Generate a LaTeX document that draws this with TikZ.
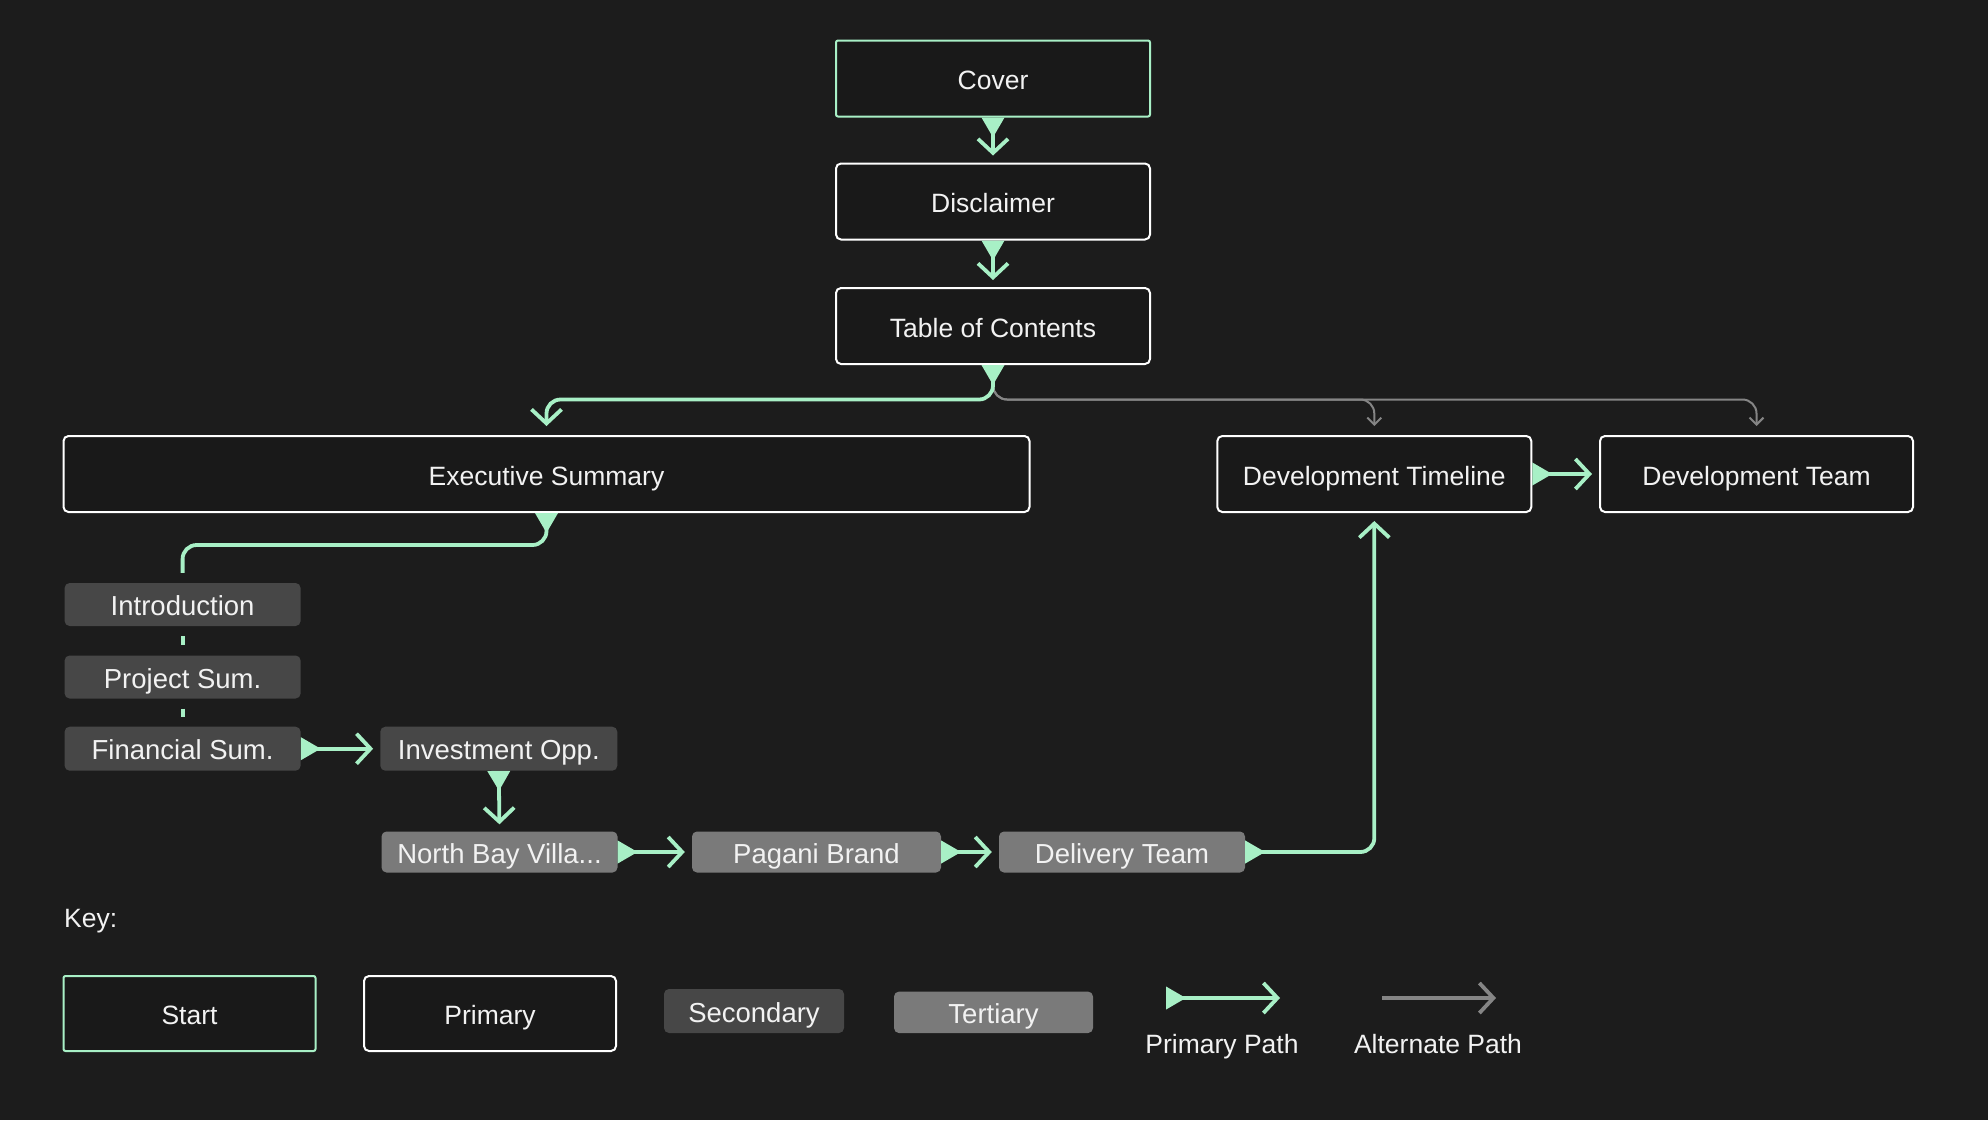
\documentclass[tikz,border=0pt]{standalone}
\usepackage{fontspec}
\setmainfont{Liberation Sans}
\usetikzlibrary{arrows.meta}
\definecolor{bg}{HTML}{1C1C1C}
\definecolor{boxfill}{HTML}{191919}
\definecolor{mint}{HTML}{A8F0C6}
\definecolor{secfill}{HTML}{474747}
\definecolor{terfill}{HTML}{7A7A7A}
\definecolor{altgray}{HTML}{858585}
\definecolor{txt}{HTML}{F2F2F2}
\tikzset{
  base/.style={inner sep=0pt, text=txt, anchor=center, font=\fontsize{26.5}{30}\selectfont, text height=22pt, text depth=0pt},
  startbox/.style={base, draw=mint, line width=2pt, fill=boxfill, rounded corners=2pt},
  primbox/.style={base, draw=white, line width=2pt, fill=boxfill, rounded corners=5pt},
  secbox/.style={base, fill=secfill, rounded corners=5pt, font=\fontsize{27.5}{30}\selectfont, text height=22.5pt},
  terbox/.style={base, fill=terfill, rounded corners=5pt, font=\fontsize{27.5}{30}\selectfont, text height=22.5pt},
  prim/.style={draw=mint, line width=3.8pt, rounded corners=14pt,
    {Triangle[reversed,length=20pt,width=22pt]}-{Straight Barb[length=14pt,width=30pt]}},
  primlink/.style={draw=mint, line width=3.8pt},
  alt/.style={draw=altgray, line width=2pt, rounded corners=14pt, -{Straight Barb[length=7pt,width=14pt]}},
  altkey/.style={draw=altgray, line width=3.8pt, -{Straight Barb[length=14pt,width=30pt]}},
  lbl/.style={text=txt, font=\fontsize{26.5}{30}\selectfont, inner sep=0pt, text height=22pt, text depth=0pt}
}
\begin{document}
\begin{tikzpicture}[x=1pt,y=-1pt]
\fill[bg] (0,0) rectangle (1988,1120);
\useasboundingbox (0,0) rectangle (1988,1120);

% nodes
\node[startbox, minimum width=314pt, minimum height=76pt] (cover) at (993,78.5) {Cover};
\node[primbox, minimum width=314pt, minimum height=76pt] (disc) at (993,201.5) {Disclaimer};
\node[primbox, minimum width=314pt, minimum height=76pt] (toc) at (993,326) {Table of Contents};
\node[primbox, minimum width=966pt, minimum height=76pt] (exec) at (546.5,474) {Executive Summary};
\node[primbox, minimum width=314pt, minimum height=76pt] (devtl) at (1374.3,474) {Development Timeline};
\node[primbox, minimum width=313pt, minimum height=76pt] (devteam) at (1756.5,474) {Development Team};

\node[secbox, minimum width=236pt, minimum height=43pt] (intro) at (182.6,604.5) {Introduction};
\node[secbox, minimum width=236pt, minimum height=43pt] (proj) at (182.6,677) {Project Sum.};
\node[secbox, minimum width=236pt, minimum height=44pt] (fin) at (182.6,748.7) {Financial Sum.};
\node[secbox, minimum width=237pt, minimum height=44pt] (inv) at (498.8,748.7) {Investment Opp.};

\node[terbox, minimum width=236pt, minimum height=41pt] (nbv) at (499.5,852) {North Bay Villa...};
\node[terbox, minimum width=249pt, minimum height=41pt] (pag) at (816.5,852) {Pagani Brand};
\node[terbox, minimum width=246pt, minimum height=41pt] (del) at (1122,852) {Delivery Team};

% helper coordinates
\coordinate (yTop) at (0,399.5);
\coordinate (yExec) at (0,545);

% alternate paths
\draw[alt, shorten >=9pt] (toc.south) -- (toc.south |- yTop) -- (devteam.north |- yTop) -- (devteam.north);
\draw[alt, shorten >=9pt] (toc.south) -- (toc.south |- yTop) -- (devtl.north |- yTop) -- (devtl.north);

% primary paths
\draw[prim, shorten >=7pt] (cover.south) -- (disc.north);
\draw[prim, shorten >=7pt] (disc.south) -- (toc.north);
\draw[prim, shorten >=9pt] (toc.south) -- (toc.south |- yTop) -- (exec.north |- yTop) -- (exec.north);
\draw[draw=mint, line width=3.8pt, rounded corners=14pt, {Triangle[reversed,length=20pt,width=22pt]}-, shorten >=10pt]
  (exec.south) -- (exec.south |- yExec) -- (intro.north |- yExec) -- (intro.north);
\draw[primlink, shorten <=10pt, shorten >=10pt] (intro.south) -- (proj.north);
\draw[primlink, shorten <=10pt, shorten >=10pt] (proj.south) -- (fin.north);
\draw[prim, shorten >=7pt] (fin.east) -- (inv.west);
\draw[prim, shorten >=7pt] (inv.south) -- (nbv.north);
\draw[prim, shorten >=7pt] (nbv.east) -- (pag.west);
\draw[prim, shorten >=7pt] (pag.east) -- (del.west);
\draw[prim, shorten >=8pt] (del.east) -- (devtl.south |- del.east) -- (devtl.south);
\draw[prim, shorten >=7pt] (devtl.east) -- (devteam.west);

% key
\node[lbl, anchor=west] (key) at (64,916.5) {Key:};
\node[startbox, minimum width=252pt, minimum height=75pt] (kstart) at (189.5,1013.5) {Start};
\node[primbox, minimum width=252pt, minimum height=75pt] (kprim) at (490,1013.5) {Primary};
\node[secbox, minimum width=180pt, minimum height=44pt] (ksec) at (754,1011) {Secondary};
\node[terbox, minimum width=199pt, minimum height=41.5pt] (kter) at (993.5,1012.3) {Tertiary};
\coordinate (pp1) at (1166,998);
\coordinate (pp2) at (1280,998);
\coordinate (ap1) at (1382,998);
\coordinate (ap2) at (1496,998);
\draw[prim] (pp1) -- (pp2);
\draw[altkey] (ap1) -- (ap2);
\node[lbl] (kpp) at (1222,1042.5) {Primary Path};
\node[lbl] (kap) at (1438,1042.5) {Alternate Path};
\end{tikzpicture}
\end{document}
